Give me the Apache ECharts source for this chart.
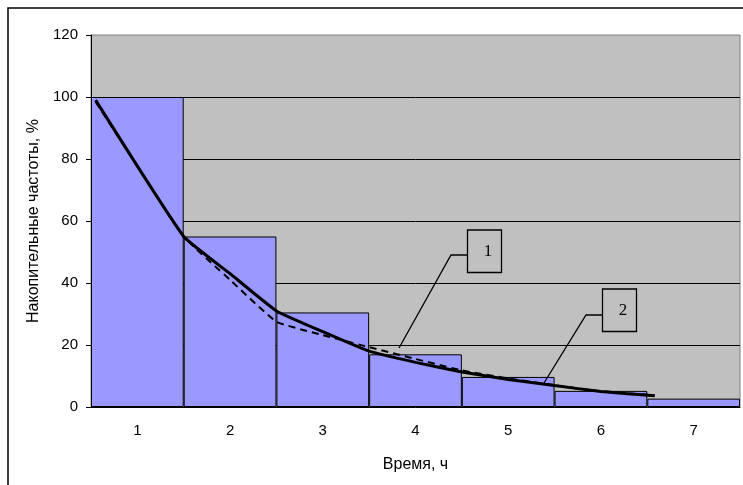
<!DOCTYPE html>
<html>
<head>
<meta charset="utf-8">
<script src="https://cdn.jsdelivr.net/npm/echarts@6/dist/echarts.min.js"></script>
<style>
  html, body { margin: 0; padding: 0; background: #fff; }
  #chart { width: 743px; height: 485px; }
</style>
</head>
<body>
<div id="chart"></div>
<script>
const categories = ['1', '2', '3', '4', '5', '6', '7'];
const barValues = [100, 55, 30.5, 17, 9.7, 5.2, 2.7];
// curve 1 (dashed) and curve 2 (solid), x in category units
const curveX = [0.55, 1.5, 2.0, 2.5, 3.0, 3.5, 4.0, 4.5, 5.0, 5.5, 6.0, 6.58];
const curve1 = [98.5, 55, 41, 27.5, 23.2, 19.3, 15.5, 11.8, 9.2, 7, 5.1, 3.8];
const curve2 = [99, 55, 43, 31, 24.3, 18, 14.4, 11.3, 8.9, 6.9, 5.0, 3.6];
const yTicks = [0, 20, 40, 60, 80, 100, 120];

const font = 'Liberation Sans, Arial, sans-serif';
const chart = echarts.init(document.getElementById('chart'));

chart.setOption({
  animation: false,
  backgroundColor: '#fff',
  textStyle: { fontFamily: font },
  grid: {
    left: 91, right: 3, top: 35, bottom: 78,
    show: true, backgroundColor: '#c0c0c0', borderColor: '#808080', borderWidth: 1
  },
  xAxis: [{
    type: 'category',
    data: categories,
    name: 'Время, ч',
    nameLocation: 'middle',
    nameGap: 50,
    nameTextStyle: { color: '#000', fontSize: 16, fontFamily: font },
    axisLine: { lineStyle: { color: '#000', width: 1 } },
    axisTick: { length: 5, lineStyle: { color: '#000' } },
    axisLabel: { color: '#000', fontSize: 15, margin: 16, fontFamily: font }
  }, {
    type: 'value',
    min: 0.5, max: 7.5,
    show: false
  }],
  yAxis: {
    type: 'value',
    min: yTicks[0], max: yTicks[yTicks.length - 1], interval: 20,
    name: 'Накопительные частоты, %',
    nameLocation: 'middle',
    nameGap: 44,
    nameTextStyle: { color: '#000', fontSize: 16, fontFamily: font },
    axisLine: { show: true, lineStyle: { color: '#000', width: 1 } },
    axisTick: { show: true, length: 5, lineStyle: { color: '#000' } },
    axisLabel: { color: '#000', fontSize: 15, margin: 13, fontFamily: font },
    splitLine: { show: true, showMinLine: false, showMaxLine: false, lineStyle: { color: '#000', width: 1 } }
  },
  series: [{
    type: 'bar',
    data: barValues,
    barCategoryGap: '0%',
    itemStyle: { color: '#9999ff', borderColor: '#000', borderWidth: 1 }
  }, {
    type: 'line',
    xAxisIndex: 1,
    data: curveX.map((x, i) => [x, curve1[i]]),
    smooth: 0.12,
    symbol: 'none',
    lineStyle: { color: '#000', width: 2, type: [7, 5] },
    z: 3
  }, {
    type: 'line',
    xAxisIndex: 1,
    data: curveX.map((x, i) => [x, curve2[i]]),
    smooth: 0.12,
    symbol: 'none',
    lineStyle: { color: '#000', width: 3 },
    z: 4
  }],
  graphic: [
    { type: 'rect', shape: { x: 8, y: 8, width: 800, height: 600 }, style: { fill: 'none', stroke: '#000', lineWidth: 1.5 }, silent: true },
    // callout 1
    { type: 'polyline', shape: { points: [[467.5, 255], [451, 255], [399, 348]] }, style: { stroke: '#000', lineWidth: 1.3, fill: 'none' }, z: 10 },
    { type: 'rect', shape: { x: 467.5, y: 230, width: 34, height: 42.5 }, style: { fill: '#c0c0c0', stroke: '#000', lineWidth: 1.3 }, z: 10 },
    { type: 'text', x: 488, y: 252, style: { text: '1', font: '17px "Liberation Serif", "Times New Roman", serif', fill: '#000', align: 'center', verticalAlign: 'middle' }, z: 11 },
    // callout 2
    { type: 'polyline', shape: { points: [[602.5, 315], [586, 315], [544, 383]] }, style: { stroke: '#000', lineWidth: 1.3, fill: 'none' }, z: 10 },
    { type: 'rect', shape: { x: 602.5, y: 289, width: 34, height: 42.5 }, style: { fill: '#c0c0c0', stroke: '#000', lineWidth: 1.3 }, z: 10 },
    { type: 'text', x: 623, y: 311, style: { text: '2', font: '17px "Liberation Serif", "Times New Roman", serif', fill: '#000', align: 'center', verticalAlign: 'middle' }, z: 11 }
  ]
});
</script>
</body>
</html>
